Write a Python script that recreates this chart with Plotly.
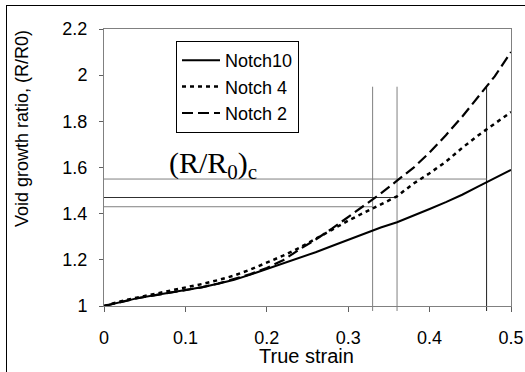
import plotly.graph_objects as go

# ---- data ----
strain = [0.00, 0.02, 0.04, 0.06, 0.08, 0.10, 0.12, 0.14, 0.16, 0.18, 0.20, 0.22, 0.24,
          0.26, 0.28, 0.30, 0.32, 0.34, 0.36, 0.38, 0.40, 0.42, 0.44, 0.46, 0.48, 0.50]
notch10 = [1.000, 1.018, 1.033, 1.045, 1.056, 1.068, 1.081, 1.096, 1.114, 1.136, 1.160, 1.183, 1.207,
           1.233, 1.260, 1.287, 1.313, 1.340, 1.363, 1.390, 1.420, 1.450, 1.482, 1.518, 1.553, 1.590]
notch4 = [1.000, 1.020, 1.036, 1.050, 1.064, 1.080, 1.095, 1.112, 1.132, 1.158, 1.188, 1.218, 1.252,
          1.290, 1.330, 1.370, 1.405, 1.440, 1.475, 1.530, 1.575, 1.625, 1.685, 1.740, 1.790, 1.840]
notch2 = [1.000, 1.018, 1.033, 1.045, 1.056, 1.068, 1.081, 1.097, 1.116, 1.138, 1.165, 1.198, 1.245,
          1.288, 1.335, 1.385, 1.435, 1.487, 1.543, 1.598, 1.665, 1.740, 1.820, 1.905, 1.995, 2.100]

crit_strain = [0.33, 0.36, 0.47]
crit_ratio = [1.43, 1.47, 1.55]
crit_top = 1.95

x_range = [0, 0.5]
y_range = [1, 2.2]

# styles
v_colors = ["#808080", "#808080", "#202020"]
h_colors = ["#808080", "#303030", "#808080"]

SANS = "Liberation Sans, Arial, sans-serif"
SERIF = "Liberation Serif, Times New Roman, serif"

# figure geometry in pixels: the paper starts at the outer frame (7, 6)
W, H = 525, 372
ML, MT = 7, 6
PW, PH = W - ML, H - MT
PLOT_L, PLOT_R, PLOT_T, PLOT_B = 104, 511, 29, 306

def px_x(p):
    return (p - ML) / PW

def px_y(p):
    return (H - p) / PH

fig = go.Figure()
# empty trace that carries the frame axes (drawn first, underneath)
fig.add_trace(go.Scatter(x=[], y=[], xaxis="x2", yaxis="y2", showlegend=False,
                         hoverinfo="skip"))
fig.add_trace(go.Scatter(x=strain, y=notch10, mode="lines", name="Notch10",
                         line=dict(color="black", width=2)))
fig.add_trace(go.Scatter(x=strain, y=notch4, mode="lines", name="Notch 4",
                         line=dict(color="black", width=2.5, dash="4px,4px")))
fig.add_trace(go.Scatter(x=strain, y=notch2, mode="lines", name="Notch 2",
                         line=dict(color="black", width=2.2, dash="11px,5px")))

def ydom(v):
    return (v - y_range[0]) / (y_range[1] - y_range[0])

shapes = []
for s, r, hc, vc in zip(crit_strain, crit_ratio, h_colors, v_colors):
    shapes.append(dict(type="line", xref="x", yref="y", x0=0, x1=s, y0=r, y1=r,
                       line=dict(color=hc, width=1), layer="below"))
    shapes.append(dict(type="line", xref="x", yref="y domain", x0=s, x1=s,
                       y0=-0.018, y1=ydom(crit_top),
                       line=dict(color=vc, width=1), layer="below"))

annotations = [
    dict(text="(R/R<sub>0</sub>)<sub>c</sub>", xref="paper", yref="paper",
         x=px_x(213), y=px_y(165), xanchor="center", yanchor="middle",
         showarrow=False, font=dict(family=SERIF, size=30, color="black")),
    dict(text="Void growth ratio, (R/R0)", xref="paper", yref="paper",
         x=px_x(22), y=px_y(129), xanchor="center", yanchor="middle",
         textangle=-90, showarrow=False, font=dict(family=SANS, size=18, color="black")),
    dict(text="True strain", xref="paper", yref="paper",
         x=px_x(306), y=px_y(356), xanchor="center", yanchor="middle",
         showarrow=False, font=dict(family=SANS, size=20, color="black")),
]

axis_common = dict(showgrid=False, zeroline=False, showline=True, linecolor="#808080",
                   linewidth=1, mirror=True, ticks="outside", tickcolor="#606060",
                   tickwidth=1, tickfont=dict(size=18), automargin=False)

fig.update_layout(
    width=W, height=H,
    margin=dict(l=ML, r=0, t=MT, b=0, pad=0, autoexpand=False),
    paper_bgcolor="white", plot_bgcolor="rgba(0,0,0,0)",
    font=dict(family=SANS, size=18, color="black"),
    showlegend=True,
    legend=dict(x=px_x(176), y=px_y(41), xanchor="left", yanchor="top",
                bordercolor="black", borderwidth=1, bgcolor="white",
                font=dict(family=SANS, size=18, color="black"),
                tracegroupgap=0, itemwidth=38),
    shapes=shapes,
    annotations=annotations,
    xaxis=dict(range=x_range, dtick=0.1, tick0=0, ticklen=5, ticklabelstandoff=10,
               domain=[px_x(PLOT_L), px_x(PLOT_R)], anchor="y", **axis_common),
    yaxis=dict(range=y_range, dtick=0.2, tick0=1, ticklen=4, ticklabelstandoff=8,
               domain=[px_y(PLOT_B), px_y(PLOT_T)], anchor="x", **axis_common),
    # frame axes: their lines draw the outer picture frame (left and top)
    xaxis2=dict(domain=[0, 1], anchor="y2", side="top", range=[0, 1], showline=True,
                linecolor="black", linewidth=1, showticklabels=False, ticks="",
                showgrid=False, zeroline=False, fixedrange=True, automargin=False),
    yaxis2=dict(domain=[0, 1], anchor="x2", side="left", range=[0, 1], showline=True,
                linecolor="black", linewidth=1, showticklabels=False, ticks="",
                showgrid=False, zeroline=False, fixedrange=True, automargin=False),
)

fig.write_html("out.html", config={"displayModeBar": False},
               post_script="document.body.style.margin='0';")
